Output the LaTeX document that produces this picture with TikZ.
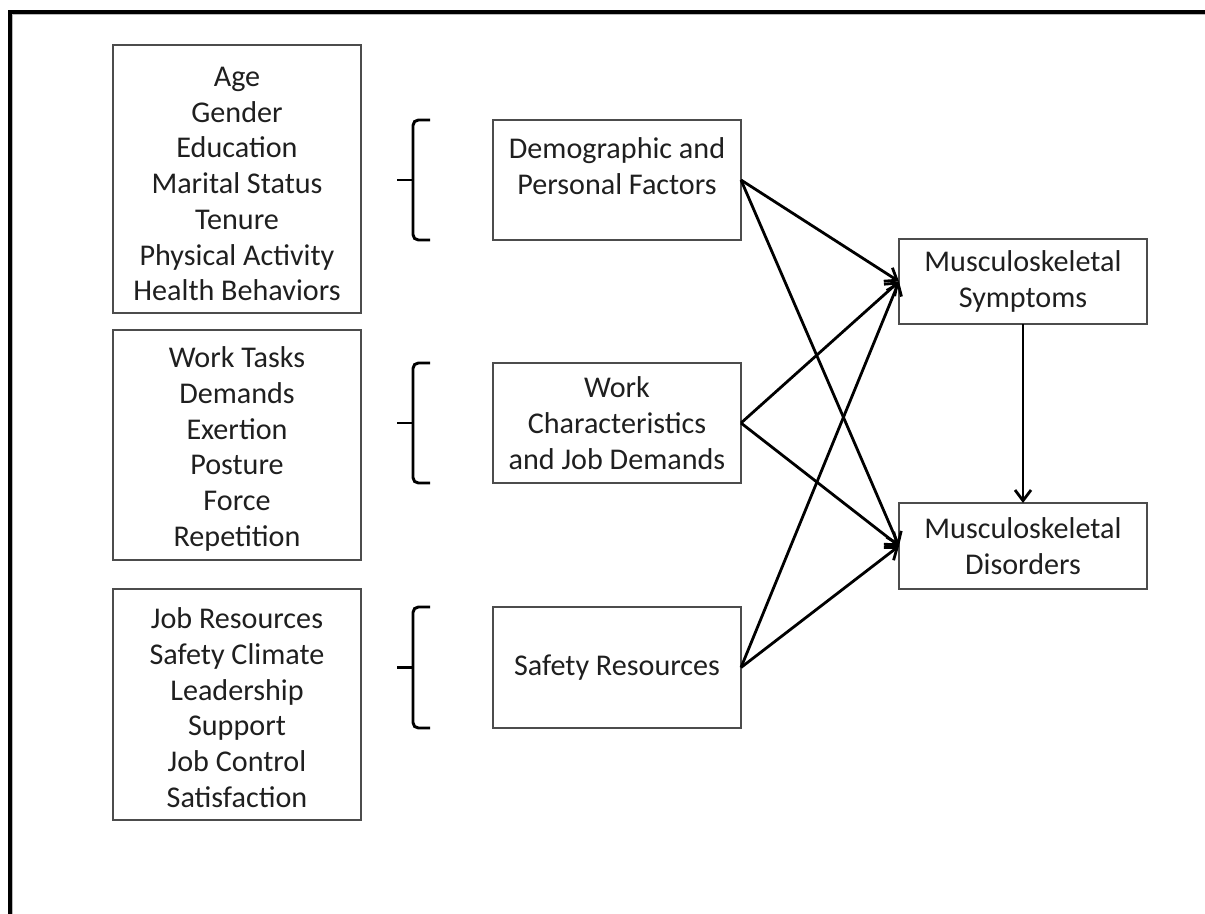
\documentclass[tikz,border=0pt]{standalone}
\usepackage{fontspec}
\setmainfont{Carlito}
\usetikzlibrary{arrows.meta,calc}
\begin{document}
\begin{tikzpicture}[x=0.75pt,y=-0.75pt,
  box/.style={draw=black!70, line width=1.5pt, inner sep=0pt, outer sep=0pt,
    align=center, font=\fontsize{22.6}{26.8}\selectfont, text=black!88,
    minimum width=186pt},
  arr/.style={line width=2.1pt, -{Straight Barb[length=8pt,width=12pt]}},
  brk/.style={line width=2.2pt, rounded corners=4pt}]

\useasboundingbox (0,0) rectangle (1205,913);

% outer frame (right and bottom edges lie beyond the page)
\draw[gray!55, line width=1.2pt] (12.5,930) -- (12.5,14.5) -- (1220,14.5);
\draw[black, line width=3.4pt] (10,930) -- (10,12) -- (1220,12);

% detail boxes
\node[box, minimum height=201pt] (ind) at (237,179)
  {\rule{0pt}{22pt}Age\\Gender\\Education\\Marital Status\\Tenure\\Physical Activity\\Health Behaviors};
\node[box, minimum height=172.5pt] (task) at (237,445)
  {\rule{0pt}{21.8pt}Work Tasks\\Demands\\Exertion\\Posture\\Force\\Repetition};
\node[box, minimum height=173.25pt] (res) at (237,704.5)
  {\rule{0pt}{20.3pt}Job Resources\\Safety Climate\\Leadership\\Support\\Job Control\\Satisfaction};

% factor groups
\node[box, minimum height=90pt] (dem) at (617,180)
  {Demographic and\\Personal Factors\\[-13.5pt]\strut};
\node[box, minimum height=90pt] (work) at (617,423)
  {Work\\Characteristics\\and Job Demands};
\node[box, minimum height=90.75pt] (safe) at (617,667.5)
  {Safety Resources};

% outcomes
\node[box, minimum height=63.75pt] (sym) at (1023,281.5)
  {Musculoskeletal\\Symptoms};
\node[box, minimum height=64.5pt] (dis) at (1023,546)
  {Musculoskeletal\\Disorders};

% curly brackets joining details to groups
\foreach \n in {dem,work,safe}{
  \draw[brk] ($(\n.north west)+(-63,0)$) -- ($(\n.north west)+(-80,0)$)
    -- ($(\n.south west)+(-80,0)$) -- ($(\n.south west)+(-63,0)$);
  \draw[line width=2.2pt] ($(\n.west)+(-80,0)$) -- ($(\n.west)+(-96,0)$);
}

% paths
\foreach \s in {dem,work,safe}{
  \draw[arr] (\s.east) -- (sym.west);
  \draw[arr] (\s.east) -- (dis.west);
}
\draw[arr] (sym.south) -- (dis.north);
\end{tikzpicture}
\end{document}
